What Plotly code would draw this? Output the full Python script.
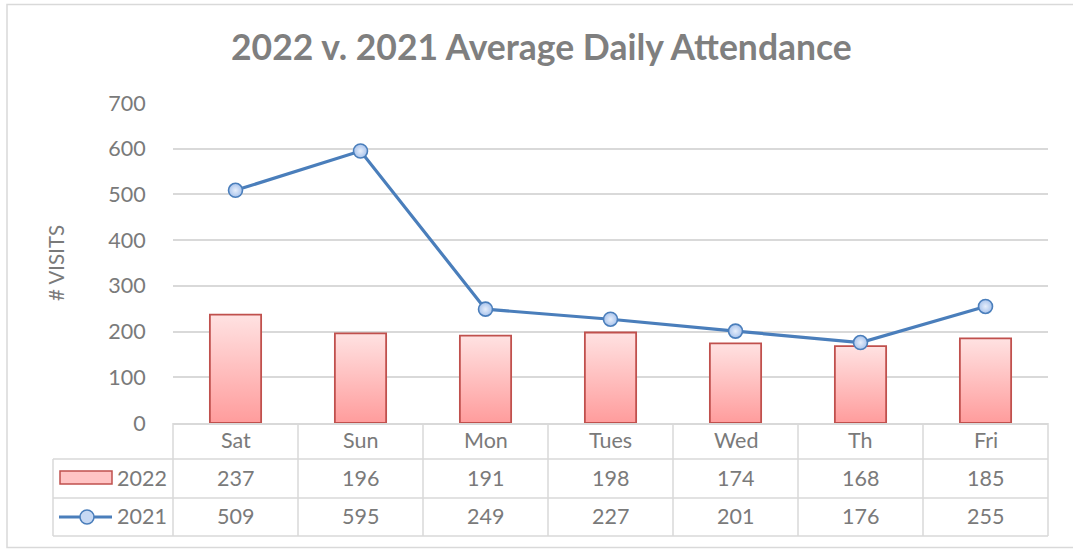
import plotly.graph_objects as go

# Attendance data
days = ["Sat", "Sun", "Mon", "Tues", "Wed", "Th", "Fri"]
visits_2022 = [237, 196, 191, 198, 174, 168, 185]
visits_2021 = [509, 595, 249, 227, 201, 176, 255]
y_ticks = [0, 100, 200, 300, 400, 500, 600, 700]

W, H = 1073, 550
PL, PR, PT, PB = 173, 1048, 103, 423          # plot-area edges in pixels
FONT = "Lato"
TXT = "#7a7a7a"
GRID = "#d9d9d9"
BAR_EDGE = "#c0504d"
LINE = "#4a7ebb"


def px(xp):
    return (xp - PL) / (PR - PL)


def py(yp):
    return (PB - yp) / (PB - PT)


fig = go.Figure()

# 2022 bars as gradient-filled columns
bw = 0.41
for i, v in enumerate(visits_2022):
    fig.add_trace(go.Scatter(
        x=[i - bw / 2, i - bw / 2, i + bw / 2, i + bw / 2, i - bw / 2],
        y=[0, v, v, 0, 0],
        mode="lines", fill="toself",
        fillgradient=dict(type="vertical",
                          colorscale=[[0, "#ff9c9c"], [1, "#ffe2e2"]]),
        line=dict(color=BAR_EDGE, width=1.8),
        showlegend=False, hoverinfo="skip",
    ))

# 2021 line
fig.add_trace(go.Scatter(
    x=list(range(len(days))), y=visits_2021, mode="lines+markers",
    line=dict(color=LINE, width=3.2),
    marker=dict(size=14, color="#a8c3ec",
                gradient=dict(type="radial", color="#e6eefb"),
                line=dict(color=LINE, width=1.6)),
    showlegend=False,
))

shapes = []
ann = []


def hline(y, x0, x1, w=1.5, color=GRID):
    shapes.append(dict(type="line", xref="paper", yref="paper",
                       x0=px(x0), x1=px(x1), y0=py(y), y1=py(y),
                       line=dict(color=color, width=w)))


def vline(x, y0, y1, w=1.5, color=GRID):
    shapes.append(dict(type="line", xref="paper", yref="paper",
                       x0=px(x), x1=px(x), y0=py(y0), y1=py(y1),
                       line=dict(color=color, width=w)))


# Data table grid
ROW_TOP, ROW1, ROW2, ROW_BOT = 423, 459, 498, 536
TL = 53
hline(ROW1, TL, PR)
hline(ROW2, TL, PR)
hline(ROW_BOT, TL, PR)
vline(TL, ROW1, ROW_BOT)
cat_w = (PR - PL) / len(days)
for k in range(len(days) + 1):
    vline(PL + k * cat_w, ROW_TOP, ROW_BOT)

# Outer chart frame
shapes.append(dict(type="rect", xref="paper", yref="paper",
                   x0=px(7), x1=px(1080), y0=py(547.5), y1=py(4.5),
                   line=dict(color=GRID, width=1.5), layer="below"))

# Table legend keys
shapes.append(dict(type="rect", xref="paper", yref="paper",
                   x0=px(60), x1=px(112), y0=py(484), y1=py(471),
                   fillcolor="#ffc4c4", line=dict(color=BAR_EDGE, width=1.5)))
shapes.append(dict(type="line", xref="paper", yref="paper",
                   x0=px(59), x1=px(112), y0=py(517), y1=py(517),
                   line=dict(color=LINE, width=3)))
shapes.append(dict(type="circle", xref="paper", yref="paper",
                   x0=px(80), x1=px(94), y0=py(524), y1=py(510),
                   fillcolor="#c6d8f3", line=dict(color=LINE, width=1.5)))

tfont = dict(family=FONT, size=21.5, color=TXT)
for i, d in enumerate(days):
    xc = px(PL + (i + 0.5) * cat_w)
    ann.append(dict(x=xc, y=py((ROW_TOP + ROW1) / 2 - 1), text=d))
    ann.append(dict(x=xc, y=py((ROW1 + ROW2) / 2 - 1), text=str(visits_2022[i])))
    ann.append(dict(x=xc, y=py((ROW2 + ROW_BOT) / 2 - 1), text=str(visits_2021[i])))
ann.append(dict(x=px(142), y=py((ROW1 + ROW2) / 2 - 1), text="2022"))
ann.append(dict(x=px(142), y=py((ROW2 + ROW_BOT) / 2 - 1), text="2021"))
for a in ann:
    a.update(xref="paper", yref="paper", showarrow=False, font=tfont,
             xanchor="center", yanchor="middle")

# Axis title
ann.append(dict(x=px(56), y=py(263), xref="paper", yref="paper",
                text="# VISITS", textangle=-90, showarrow=False,
                font=dict(family=FONT, size=20.5, color=TXT),
                xanchor="center", yanchor="middle"))
# Chart title
ann.append(dict(x=px(541), y=py(47), xref="paper", yref="paper",
                text="<b>2022 v. 2021 Average Daily Attendance</b>",
                showarrow=False,
                font=dict(family=FONT, size=35.5, color="#7f7f7f"),
                xanchor="center", yanchor="middle"))

fig.update_layout(
    width=W, height=H,
    margin=dict(l=PL, r=W - PR, t=PT, b=H - PB, pad=0),
    paper_bgcolor="white", plot_bgcolor="white",
    shapes=shapes, annotations=ann,
    xaxis=dict(range=[-0.5, len(days) - 0.5], showticklabels=False,
               showgrid=False, zeroline=False, showline=True,
               linecolor=GRID, linewidth=1.5, ticks="", fixedrange=True),
    yaxis=dict(range=[0, 700], tickvals=y_ticks, showgrid=True,
               gridcolor=GRID, gridwidth=1.5, zeroline=False,
               showline=False, ticks="outside", ticklen=22,
               tickcolor="rgba(0,0,0,0)",
               tickfont=dict(family=FONT, size=21.5, color=TXT)),
    showlegend=False,
)

fig.write_html("out.html")
